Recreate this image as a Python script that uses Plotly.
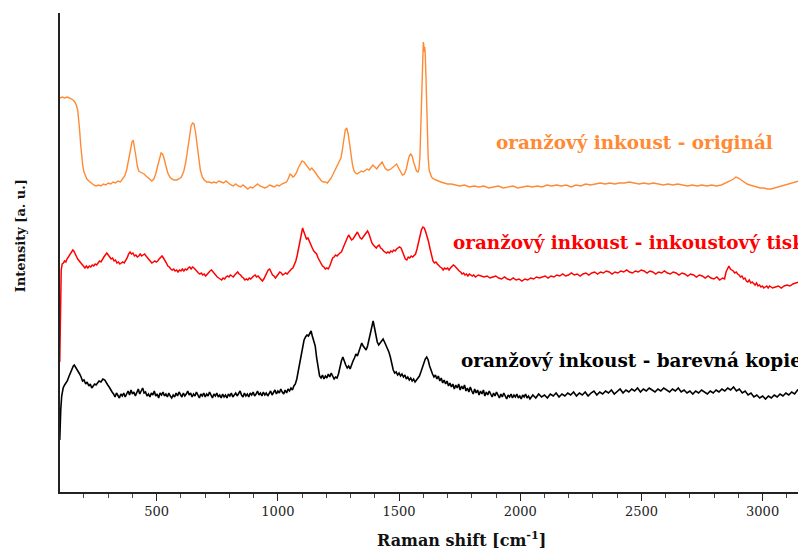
import plotly.graph_objects as go

# Raman spectra of orange ink: original, inkjet print and colour copy.
# Intensities are in arbitrary units with the traces vertically offset.

wn_original = [100, 110, 120, 130, 140, 148, 155, 162, 168, 174, 178, 182, 186, 190, 195, 200, 206, 212, 220, 230,
               240, 250, 260, 270, 280, 290, 300, 310, 320, 330, 340, 350, 360, 368, 376, 384, 392, 398, 403, 408,
               414, 420, 426, 432, 440, 448, 456, 464, 472, 480, 488, 496, 504, 512, 518, 524, 530, 538, 546, 554,
               562, 572, 582, 592, 602, 612, 620, 628, 636, 642, 648, 654, 660, 666, 672, 680, 688, 696, 706, 716,
               726, 736, 746, 756, 766, 776, 786, 796, 806, 816, 826, 836, 846, 856, 866, 876, 886, 896, 906, 916,
               926, 936, 946, 956, 966, 976, 986, 996, 1006, 1016, 1026, 1036, 1044, 1050, 1056, 1062, 1068, 1076, 1084, 1092,
               1100, 1108, 1116, 1124, 1132, 1140, 1148, 1156, 1164, 1172, 1180, 1188, 1196, 1204, 1212, 1220, 1228, 1236, 1244, 1252,
               1260, 1266, 1272, 1278, 1284, 1290, 1296, 1302, 1308, 1314, 1320, 1328, 1336, 1344, 1352, 1360, 1368, 1376, 1384, 1392,
               1400, 1408, 1416, 1424, 1430, 1436, 1442, 1450, 1458, 1466, 1474, 1482, 1490, 1498, 1506, 1514, 1522, 1530, 1536, 1542,
               1548, 1554, 1560, 1566, 1572, 1578, 1582, 1586, 1589, 1592, 1595, 1598, 1600, 1602, 1604, 1606, 1608, 1611, 1614, 1617,
               1620, 1624, 1628, 1634, 1642, 1650, 1660, 1672, 1686, 1700, 1716, 1732, 1750, 1770, 1790, 1810, 1830, 1850, 1870, 1890,
               1910, 1930, 1950, 1970, 1990, 2010, 2030, 2050, 2070, 2090, 2110, 2130, 2150, 2170, 2190, 2210, 2230, 2250, 2270, 2290,
               2310, 2330, 2350, 2370, 2390, 2410, 2430, 2450, 2470, 2490, 2510, 2530, 2550, 2570, 2590, 2610, 2630, 2650, 2670, 2690,
               2710, 2730, 2750, 2770, 2790, 2810, 2830, 2850, 2865, 2880, 2890, 2900, 2912, 2924, 2936, 2948, 2960, 2975, 2990, 3005,
               3020, 3035, 3050, 3065, 3080, 3095, 3110, 3125, 3140, 3150]
int_original = [394, 395, 394, 395, 394, 393, 392, 390, 387, 382, 374, 362, 348, 336, 326, 320, 316, 313, 311, 309,
                307, 306, 307, 306, 308, 307, 309, 308, 310, 309, 311, 310, 313, 316, 322, 332, 343, 350, 352, 346,
                336, 326, 321, 320, 319, 318, 316, 314, 312, 311, 313, 318, 326, 335, 339, 338, 334, 326, 319, 315,
                313, 312, 312, 313, 315, 321, 330, 343, 356, 366, 369, 368, 360, 347, 334, 322, 315, 312, 310, 310,
                309, 310, 309, 311, 310, 309, 311, 309, 307, 306, 308, 306, 305, 307, 305, 303, 305, 304, 306, 308,
                306, 305, 304, 305, 307, 306, 305, 307, 306, 308, 309, 310, 314, 318, 317, 315, 316, 319, 324, 328,
                331, 330, 327, 325, 322, 324, 322, 319, 316, 313, 311, 310, 310, 309, 311, 314, 318, 322, 326, 330,
                334, 342, 355, 362, 364, 358, 348, 337, 327, 321, 319, 318, 320, 321, 320, 322, 323, 322, 324, 327,
                325, 323, 326, 329, 330, 327, 324, 322, 322, 323, 325, 327, 328, 324, 320, 317, 318, 323, 330, 336,
                338, 336, 330, 324, 321, 320, 323, 335, 360, 395, 430, 447, 450, 447, 440, 445, 438, 415, 385, 355,
                335, 322, 318, 315, 313, 312, 311, 310, 309, 308, 308, 307, 306, 307, 305, 306, 305, 306, 304, 305,
                306, 304, 305, 306, 304, 305, 306, 305, 306, 305, 307, 306, 307, 306, 307, 305, 307, 306, 308, 307,
                308, 309, 308, 309, 308, 309, 309, 310, 309, 308, 309, 308, 309, 308, 307, 308, 307, 308, 307, 306,
                307, 306, 307, 306, 307, 306, 307, 309, 311, 313, 315, 314, 312, 310, 308, 307, 306, 305, 304, 304,
                303, 303, 304, 305, 306, 307, 308, 309, 310, 311]

wn_inkjet = [100, 102, 104, 106, 110, 115, 120, 125, 130, 136, 142, 148, 154, 158, 163, 168, 174, 180, 186, 192,
             198, 204, 210, 216, 222, 228, 234, 240, 246, 252, 258, 264, 270, 276, 282, 288, 294, 300, 306, 312,
             318, 324, 330, 336, 342, 348, 354, 360, 366, 372, 378, 384, 390, 396, 402, 408, 414, 420, 426, 432,
             438, 444, 450, 456, 462, 468, 474, 480, 486, 492, 498, 504, 510, 516, 522, 528, 534, 540, 546, 552,
             558, 564, 570, 576, 582, 588, 594, 600, 606, 612, 618, 624, 630, 636, 642, 648, 654, 660, 666, 672,
             678, 684, 690, 696, 702, 708, 714, 720, 726, 732, 738, 744, 750, 756, 762, 768, 774, 780, 786, 792,
             798, 804, 810, 816, 822, 828, 834, 840, 846, 852, 858, 864, 870, 876, 882, 888, 894, 900, 906, 912,
             918, 924, 930, 936, 942, 948, 954, 960, 966, 972, 978, 984, 990, 996, 1002, 1008, 1014, 1020, 1026, 1032,
             1038, 1044, 1050, 1056, 1062, 1068, 1074, 1080, 1086, 1092, 1098, 1102, 1106, 1112, 1118, 1124, 1130, 1136, 1142, 1148,
             1154, 1160, 1166, 1172, 1178, 1184, 1190, 1196, 1202, 1208, 1214, 1220, 1226, 1232, 1238, 1244, 1250, 1256, 1262, 1268,
             1274, 1280, 1286, 1292, 1298, 1304, 1310, 1316, 1322, 1328, 1334, 1340, 1346, 1352, 1358, 1364, 1370, 1376, 1382, 1388,
             1394, 1400, 1406, 1412, 1418, 1424, 1430, 1436, 1442, 1448, 1454, 1460, 1466, 1472, 1478, 1484, 1490, 1496, 1502, 1508,
             1514, 1520, 1526, 1532, 1538, 1544, 1550, 1556, 1562, 1568, 1574, 1580, 1586, 1592, 1598, 1604, 1610, 1616, 1622, 1628,
             1634, 1640, 1646, 1652, 1658, 1664, 1670, 1676, 1682, 1688, 1694, 1700, 1706, 1712, 1718, 1724, 1730, 1736, 1742, 1748,
             1754, 1760, 1766, 1772, 1778, 1784, 1790, 1796, 1802, 1808, 1815, 1827, 1839, 1851, 1863, 1875, 1887, 1899, 1911, 1923,
             1935, 1947, 1959, 1971, 1983, 1995, 2007, 2019, 2031, 2043, 2055, 2067, 2079, 2091, 2103, 2115, 2127, 2139, 2151, 2163,
             2175, 2187, 2199, 2211, 2223, 2235, 2247, 2259, 2271, 2283, 2295, 2307, 2319, 2331, 2343, 2355, 2367, 2379, 2391, 2403,
             2415, 2427, 2439, 2451, 2463, 2475, 2487, 2499, 2511, 2523, 2535, 2547, 2559, 2571, 2583, 2595, 2607, 2619, 2631, 2643,
             2655, 2667, 2679, 2691, 2703, 2715, 2727, 2739, 2751, 2763, 2775, 2787, 2799, 2811, 2823, 2835, 2843, 2849, 2855, 2861,
             2867, 2873, 2879, 2885, 2891, 2897, 2903, 2909, 2915, 2921, 2927, 2933, 2939, 2945, 2951, 2957, 2963, 2969, 2975, 2981,
             2987, 2993, 2999, 3005, 3011, 3017, 3023, 3029, 3035, 3041, 3053, 3065, 3077, 3089, 3101, 3113, 3125, 3137, 3150]
int_inkjet = [130, 175, 205, 222, 228, 229, 231, 230, 233, 235, 238, 240, 242, 241, 239, 236, 233, 231, 229, 227,
              226, 224, 226, 224, 226, 225, 227, 226, 228, 227, 229, 231, 230, 233, 235, 237, 239, 237, 235, 233,
              234, 231, 232, 229, 230, 228, 229, 230, 229, 231, 234, 238, 240, 238, 239, 236, 237, 235, 236, 238,
              236, 237, 238, 236, 234, 233, 231, 229, 230, 231, 230, 231, 233, 235, 236, 234, 232, 229, 226, 225,
              223, 222, 223, 221, 222, 220, 222, 221, 223, 221, 223, 222, 224, 225, 223, 225, 224, 222, 220, 219,
              218, 219, 217, 218, 216, 218, 219, 221, 222, 220, 218, 216, 215, 214, 213, 212, 214, 213, 215, 216,
              215, 217, 216, 215, 217, 219, 220, 218, 217, 215, 214, 212, 213, 212, 214, 213, 215, 216, 217, 215,
              216, 214, 212, 211, 213, 216, 219, 222, 223, 220, 217, 216, 214, 216, 218, 220, 219, 217, 218, 219,
              218, 220, 222, 223, 224, 227, 231, 237, 245, 254, 262, 264, 261, 256, 253, 254, 250, 247, 244, 241,
              239, 238, 234, 231, 228, 226, 225, 223, 224, 223, 226, 231, 234, 235, 237, 236, 238, 239, 240, 244,
              247, 250, 254, 257, 254, 252, 253, 255, 258, 260, 257, 254, 253, 255, 258, 260, 261, 258, 253, 249,
              247, 245, 244, 246, 247, 244, 243, 241, 240, 239, 240, 239, 241, 240, 242, 241, 243, 244, 245, 244,
              240, 236, 233, 232, 235, 234, 236, 235, 237, 238, 243, 250, 257, 262, 265, 264, 260, 256, 250, 243,
              236, 231, 229, 230, 228, 226, 225, 224, 222, 224, 223, 224, 222, 224, 226, 227, 226, 224, 222, 221,
              220, 218, 219, 217, 218, 216, 218, 217, 216, 217, 215, 217, 216, 215, 216, 214, 215, 216, 214, 213,
              215, 213, 212, 214, 212, 213, 211, 213, 212, 214, 213, 215, 214, 215, 216, 214, 216, 215, 217, 216,
              218, 216, 217, 219, 217, 218, 216, 218, 219, 217, 219, 220, 218, 220, 219, 221, 220, 218, 220, 219,
              221, 220, 222, 220, 219, 221, 220, 222, 221, 219, 221, 220, 218, 220, 219, 221, 219, 218, 220, 219,
              217, 219, 218, 216, 218, 217, 215, 217, 216, 214, 216, 214, 213, 215, 212, 214, 213, 220, 224, 226,
              223, 222, 221, 219, 220, 218, 217, 215, 216, 213, 214, 211, 210, 212, 209, 210, 208, 207, 209, 206,
              207, 205, 206, 204, 205, 206, 204, 206, 205, 204, 205, 206, 204, 206, 207, 206, 208, 209, 210]

wn_copy = [100, 102, 104, 108, 114, 120, 126, 131, 137, 143, 150, 156, 160, 165, 170, 176, 182, 188, 194, 200,
           207, 213, 220, 226, 232, 238, 244, 250, 256, 262, 270, 278, 286, 292, 298, 304, 310, 316, 322, 328,
           334, 340, 346, 352, 358, 364, 370, 376, 382, 388, 394, 400, 406, 412, 418, 424, 430, 436, 442, 448,
           454, 460, 466, 472, 478, 484, 490, 496, 502, 508, 514, 520, 526, 532, 538, 544, 550, 556, 562, 568,
           574, 580, 586, 592, 598, 604, 610, 616, 622, 628, 634, 640, 646, 652, 658, 664, 670, 676, 682, 688,
           694, 700, 706, 712, 718, 724, 730, 736, 742, 748, 754, 760, 766, 772, 778, 784, 790, 796, 802, 808,
           814, 820, 826, 832, 838, 844, 850, 856, 862, 868, 874, 880, 886, 892, 898, 904, 910, 916, 922, 928,
           934, 940, 946, 952, 958, 964, 970, 976, 982, 988, 994, 1000, 1006, 1012, 1018, 1024, 1030, 1036, 1042, 1048,
           1054, 1060, 1066, 1072, 1078, 1084, 1090, 1096, 1102, 1108, 1114, 1120, 1126, 1132, 1137, 1142, 1148, 1154, 1160, 1166,
           1172, 1178, 1184, 1190, 1196, 1202, 1208, 1214, 1220, 1226, 1232, 1238, 1244, 1250, 1256, 1262, 1268, 1274, 1280, 1286,
           1292, 1298, 1304, 1310, 1316, 1322, 1328, 1334, 1340, 1346, 1352, 1358, 1364, 1370, 1376, 1382, 1388, 1393, 1398, 1404,
           1410, 1416, 1422, 1428, 1434, 1440, 1446, 1452, 1458, 1464, 1470, 1476, 1482, 1488, 1494, 1500, 1506, 1512, 1518, 1524,
           1530, 1536, 1542, 1548, 1554, 1560, 1566, 1572, 1578, 1584, 1590, 1596, 1602, 1608, 1614, 1620, 1626, 1632, 1638, 1644,
           1650, 1656, 1662, 1668, 1674, 1680, 1686, 1692, 1698, 1704, 1710, 1716, 1722, 1728, 1734, 1740, 1746, 1752, 1758, 1764,
           1770, 1776, 1782, 1788, 1794, 1800, 1806, 1812, 1818, 1824, 1830, 1836, 1842, 1848, 1854, 1860, 1866, 1872, 1878, 1884,
           1890, 1896, 1902, 1908, 1914, 1920, 1926, 1932, 1938, 1944, 1950, 1956, 1962, 1968, 1974, 1980, 1986, 1992, 1998, 2004,
           2010, 2016, 2022, 2028, 2034, 2040, 2052, 2064, 2076, 2088, 2100, 2112, 2124, 2136, 2148, 2160, 2172, 2184, 2196, 2208,
           2220, 2232, 2244, 2256, 2268, 2280, 2292, 2304, 2316, 2328, 2340, 2352, 2364, 2376, 2388, 2400, 2412, 2424, 2436, 2448,
           2460, 2472, 2484, 2496, 2508, 2520, 2532, 2544, 2556, 2568, 2580, 2592, 2604, 2616, 2628, 2640, 2652, 2664, 2676, 2688,
           2700, 2712, 2724, 2736, 2748, 2760, 2772, 2784, 2796, 2808, 2820, 2832, 2844, 2856, 2868, 2880, 2892, 2904, 2916, 2928,
           2940, 2952, 2964, 2976, 2988, 3000, 3012, 3024, 3036, 3048, 3060, 3072, 3084, 3096, 3108, 3120, 3132, 3144, 3150]
int_copy = [52, 70, 82, 96, 104, 107, 109, 111, 115, 119, 123, 126, 127, 125, 124, 121, 118, 115, 111, 112,
            108, 110, 106, 108, 104, 106, 108, 107, 109, 111, 110, 113, 112, 109, 107, 105, 102, 100, 98, 95,
            99, 96, 94, 98, 96, 99, 95, 98, 101, 97, 102, 98, 100, 96, 99, 103, 98, 101, 104, 99,
            100, 96, 98, 95, 99, 97, 101, 96, 98, 94, 99, 97, 100, 96, 98, 95, 99, 96, 94, 97,
            95, 99, 96, 100, 97, 95, 99, 96, 98, 101, 97, 99, 95, 98, 96, 100, 97, 94, 98, 96,
            99, 95, 98, 96, 100, 97, 94, 98, 96, 99, 95, 97, 94, 98, 95, 97, 94, 98, 96, 99,
            95, 97, 99, 96, 98, 101, 97, 95, 99, 96, 98, 95, 99, 97, 100, 96, 98, 101, 97, 99,
            96, 100, 97, 99, 96, 98, 101, 97, 99, 102, 98, 101, 99, 103, 100, 98, 102, 99, 103, 101,
            104, 102, 106, 108, 113, 121, 130, 139, 146, 152, 155, 157, 156, 159, 161, 156, 152, 146, 134, 122,
            116, 114, 117, 113, 116, 114, 118, 115, 119, 116, 113, 115, 114, 118, 125, 131, 135, 130, 127, 124,
            126, 123, 128, 131, 134, 138, 136, 141, 146, 149, 146, 144, 142, 146, 152, 160, 166, 171, 165, 156,
            150, 147, 149, 152, 153, 150, 147, 144, 140, 135, 128, 122, 119, 120, 117, 119, 116, 118, 115, 117,
            113, 115, 112, 114, 111, 113, 110, 112, 115, 116, 120, 125, 130, 133, 135, 132, 126, 121, 118, 115,
            117, 113, 116, 111, 114, 109, 112, 108, 111, 106, 109, 105, 108, 103, 107, 104, 108, 102, 106, 103,
            107, 101, 104, 100, 105, 101, 98, 103, 99, 102, 97, 101, 98, 102, 96, 100, 97, 101, 98, 95,
            99, 96, 100, 97, 94, 98, 95, 99, 96, 93, 97, 95, 98, 94, 97, 95, 98, 94, 96, 93,
            97, 95, 98, 94, 96, 93, 97, 94, 98, 95, 97, 94, 98, 96, 99, 95, 98, 96, 99, 97,
            100, 96, 99, 97, 100, 96, 99, 101, 97, 100, 98, 101, 99, 102, 98, 101, 103, 99, 102, 100,
            103, 101, 104, 100, 103, 101, 104, 102, 100, 103, 101, 104, 102, 100, 103, 101, 104, 100, 102, 99,
            101, 98, 101, 99, 102, 100, 98, 101, 99, 102, 100, 103, 101, 104, 102, 105, 101, 103, 99, 101,
            97, 99, 95, 97, 94, 96, 93, 96, 94, 97, 95, 98, 96, 99, 97, 100, 98, 102, 101]

x_ticks = [500, 1000, 1500, 2000, 2500, 3000]

series = [
    (wn_original, int_original, "#ff8a33", 1.4, "oranžový inkoust - originál", 0.588, 0.729),
    (wn_inkjet, int_inkjet, "#ff0000", 1.5, "oranžový inkoust - inkoustový tisk", 0.530, 0.520),
    (wn_copy, int_copy, "#000000", 1.6, "oranžový inkoust - barevná kopie", 0.5407, 0.2735),
]

serif = "DejaVu Serif, serif"

fig = go.Figure()
for wn, inten, colour, lw, label, lx, ly in series:
    fig.add_trace(go.Scatter(x=wn, y=inten, mode="lines", name=label,
                             line=dict(color=colour, width=lw), showlegend=False))
    fig.add_annotation(text=f"<b>{label}</b>", xref="paper", yref="paper", x=lx, y=ly,
                       xanchor="left", yanchor="middle", showarrow=False,
                       font=dict(family=serif, size=18.4, color=colour))

# axis titles
fig.add_annotation(text="<b>Intensity [a. u.]</b>", xref="paper", yref="paper",
                   x=-0.054, y=0.534, textangle=-90, showarrow=False,
                   xanchor="center", yanchor="middle",
                   font=dict(family=serif, size=13, color="#111"))
fig.add_annotation(text="<b>Raman shift [cm<sup>-1</sup>]</b>", xref="paper", yref="paper",
                   x=0.5447, y=-0.098, showarrow=False, xanchor="center", yanchor="middle",
                   font=dict(family=serif, size=16, color="#111"))

fig.update_layout(
    width=798, height=550,
    margin=dict(l=60, r=0, t=13, b=58),
    plot_bgcolor="white", paper_bgcolor="white",
    xaxis=dict(range=[101, 3146], tickvals=x_ticks, ticks="outside", ticklen=7, tickwidth=1.3,
               tickcolor="#222", showline=True, linecolor="#222", linewidth=1.6,
               showgrid=False, zeroline=False,
               minor=dict(dtick=100, tick0=0, ticks="outside", ticklen=4, tickwidth=1, tickcolor="#444",
                          showgrid=False),
               tickfont=dict(family=serif, size=13, color="#222")),
    yaxis=dict(range=[0, 479], showline=True, linecolor="#222", linewidth=1.6,
               showticklabels=False, ticks="", showgrid=False, zeroline=False),
)

fig.write_html("out.html")
